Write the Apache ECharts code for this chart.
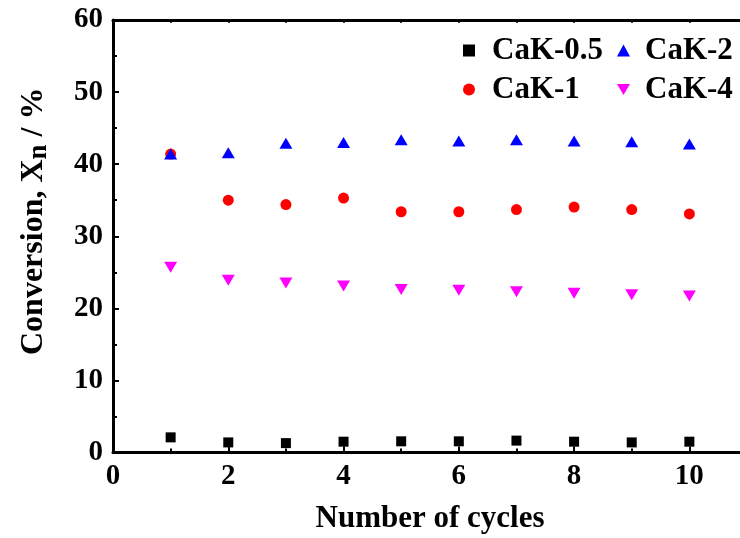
<!DOCTYPE html>
<html>
<head>
<meta charset="utf-8">
<script src="https://cdn.jsdelivr.net/npm/echarts@6/dist/echarts.min.js"></script>
<style>
  html, body { margin: 0; padding: 0; background: #fff; }
  #chart { width: 740px; height: 538px; }
</style>
</head>
<body>
<div id="chart"></div>
<script>
// Conversion per cycle for each CaK sample
const cycles = [1, 2, 3, 4, 5, 6, 7, 8, 9, 10];
const cak05 = [2.1, 1.4, 1.3, 1.5, 1.55, 1.55, 1.65, 1.5, 1.4, 1.5];
const cak1 = [41.4, 35.0, 34.4, 35.3, 33.4, 33.4, 33.7, 34.05, 33.7, 33.1];
const cak2 = [41.4, 41.6, 42.9, 43.0, 43.4, 43.2, 43.4, 43.2, 43.1, 42.8];
const cak4 = [25.7, 23.9, 23.5, 23.1, 22.6, 22.5, 22.3, 22.1, 21.9, 21.7];
const seriesNames = ['CaK-0.5', 'CaK-1', 'CaK-2', 'CaK-4'];

const FONT = 'Liberation Serif';
const pairs = ys => cycles.map((c, i) => [c, ys[i]]);
const downTriangle = 'path://M0,0L2,0L1,1.7Z';

const chart = echarts.init(document.getElementById('chart'), null, { renderer: 'canvas' });

const legendText = {
  fontFamily: FONT, fontWeight: 'bold', fontSize: 31, color: '#000',
  lineHeight: 30, padding: [0, 0, 0, 12]
};

chart.setOption({
  animation: false,
  backgroundColor: '#fff',
  grid: { left: 113, top: 20, right: -7, bottom: 85.5, outerBoundsMode: 'none', containLabel: false },
  legend: [
    {
      data: [seriesNames[0], seriesNames[1]],
      orient: 'vertical', left: 458, top: 30,
      itemWidth: 12, itemHeight: 12, itemGap: 8,
      textStyle: legendText, selectedMode: false
    },
    {
      data: [seriesNames[2], seriesNames[3]],
      orient: 'vertical', left: 612, top: 30,
      itemWidth: 13, itemHeight: 12, itemGap: 8,
      textStyle: Object.assign({}, legendText, { padding: [0, 0, 0, 10] }), selectedMode: false
    }
  ],
  xAxis: [
    {
      type: 'value', min: 0, max: 11, interval: 2, position: 'bottom',
      name: 'Number of cycles', nameLocation: 'middle', nameGap: 51,
      nameTextStyle: { fontFamily: FONT, fontWeight: 'bold', fontSize: 31, color: '#000' },
      axisLine: { show: true, onZero: false, lineStyle: { color: '#000', width: 3 } },
      axisTick: { show: true, inside: true, length: 6, lineStyle: { color: '#000', width: 2 } },
      minorTick: { show: true, splitNumber: 2, length: 4, lineStyle: { color: '#000', width: 2 } },
      axisLabel: { fontFamily: FONT, fontWeight: 'bold', fontSize: 29, color: '#000', margin: 10, showMaxLabel: false },
      splitLine: { show: false }
    },
    {
      type: 'value', min: 0, max: 11, interval: 1, position: 'top',
      axisLine: { show: true, onZero: false, lineStyle: { color: '#000', width: 3 } },
      axisTick: { show: true, inside: true, length: 3, lineStyle: { color: '#000', width: 1.5 } },
      axisLabel: { show: false },
      splitLine: { show: false }
    }
  ],
  yAxis: {
    type: 'value', min: 0, max: 60, interval: 10,
    name: 'Conversion, X{sub|n} / %', nameLocation: 'middle', nameGap: 60, nameRotate: 90,
    nameTextStyle: {
      fontFamily: FONT, fontWeight: 'bold', fontSize: 32, color: '#000',
      padding: [0, 0, 0, 30],
      rich: {
        sub: { fontFamily: FONT, fontWeight: 'bold', fontSize: 27, color: '#000', padding: [12, 0, 0, 0] }
      }
    },
    axisLine: { show: true, onZero: false, lineStyle: { color: '#000', width: 3 } },
    axisTick: { show: true, inside: true, length: 6, lineStyle: { color: '#000', width: 2 } },
    minorTick: { show: true, splitNumber: 2, length: 4, lineStyle: { color: '#000', width: 2 } },
    axisLabel: { fontFamily: FONT, fontWeight: 'bold', fontSize: 29, color: '#000', margin: 10 },
    splitLine: { show: false }
  },
  series: [
    { name: seriesNames[0], type: 'scatter', data: pairs(cak05), symbol: 'rect', symbolSize: 10, itemStyle: { color: '#000', opacity: 1 } },
    { name: seriesNames[1], type: 'scatter', data: pairs(cak1), symbol: 'circle', symbolSize: 11, itemStyle: { color: '#ff0000', opacity: 1 } },
    { name: seriesNames[2], type: 'scatter', data: pairs(cak2), symbol: 'triangle', symbolSize: [13, 11], itemStyle: { color: '#0000ff', opacity: 1 } },
    { name: seriesNames[3], type: 'scatter', data: pairs(cak4), symbol: downTriangle, symbolSize: [13, 11], itemStyle: { color: '#ff00ff', opacity: 1 } }
  ]
});
</script>
</body>
</html>
